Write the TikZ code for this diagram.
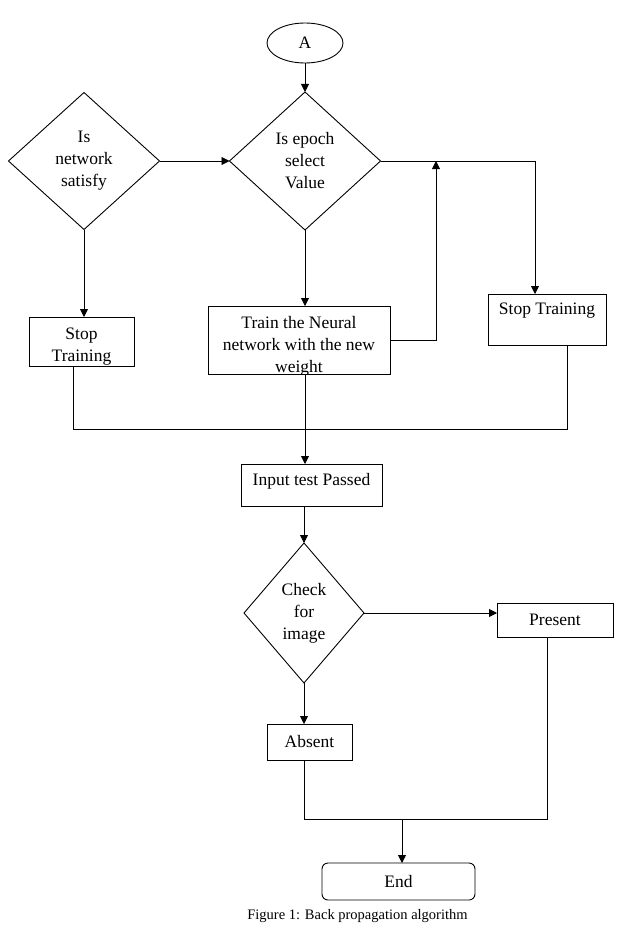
\documentclass[tikz,border=0pt]{standalone}
\usepackage{fontspec}
\setmainfont{Liberation Serif}
\usepackage{tikz}
\usetikzlibrary{shapes.geometric,arrows.meta}

\begin{document}
\begin{tikzpicture}[x=1pt, y=-1pt, line width=0.9pt,
    font=\fontsize{17.5}{22}\selectfont,
    arr/.style={-{Triangle[length=8pt,width=8pt]}},
    box/.style={draw, rectangle, inner sep=0pt, outer sep=0pt},
    decision/.style={draw, diamond, inner sep=0pt, outer sep=0pt, align=center},
    boxtext/.style={align=center, inner sep=0pt}]
    \useasboundingbox (0,0) rectangle (621,926);
    % start
    \node[draw, ellipse, inner sep=0pt] (A) at (305,43) [minimum width=76pt, minimum height=40pt] {A};
    % decisions
    \node[decision] (epoch) at (305,161) [minimum width=151pt, minimum height=138pt] {Is epoch\\select\\Value};
    \node[decision] (network) at (84,161) [minimum width=151pt, minimum height=137pt] {Is\\network\\satisfy};
    \node[decision] (check) at (304,613) [minimum width=120pt, minimum height=140pt] {Check\\for\\image};
    % boxes
    \node[box] (stopl) at (81.5,341.5) [minimum width=105pt, minimum height=49pt,
        path picture={\node[boxtext] (stopltext) at ([yshift=-5.5pt]path picture bounding box.center) {Stop\\Training};}] {};
    \node[box] (train) at (299,340) [minimum width=182pt, minimum height=68pt,
        path picture={\node[boxtext] (traintext) at ([yshift=-6.5pt]path picture bounding box.center) {Train the Neural\\network with the new\\weight};}] {};
    \node[box] (stopr) at (547,319.5) [minimum width=118pt, minimum height=51pt,
        path picture={\node[boxtext] (stoprtext) at ([yshift=-17pt]path picture bounding box.north) {Stop Training};}] {};
    \node[box] (input) at (311.5,485) [minimum width=141pt, minimum height=42pt,
        path picture={\node[boxtext] (inputtext) at ([yshift=4pt]path picture bounding box.center) {Input test Passed};}] {};
    \node[box] (present) at (555,620) [minimum width=116pt, minimum height=34pt] {Present};
    \node[box] (absent) at (309.5,742) [minimum width=85pt, minimum height=36pt] {Absent};
    \node[box, rounded corners=6pt] (end) at (398.5,881.5) [minimum width=153pt, minimum height=37pt] {End};
    \node[font=\fontsize{14.5}{16}\selectfont, inner sep=0pt] (caption) at (357.5,916) {Figure 1: Back propagation algorithm};
    % helper points
    \coordinate (loop) at (436,161);
    \coordinate (joinl) at (73,429);
    \coordinate (joinr) at (567,429);
    \coordinate (merge) at (402,819);
    % connectors
    \draw[arr] (A) -- (epoch);
    \draw[arr] (network.east) -- (epoch.west);
    \draw[arr] (network.south) -- (network.south |- stopl.north);
    \draw[arr] (epoch.south) -- (epoch.south |- train.north);
    \draw[arr] (epoch.east) -| ([xshift=-12pt]stopr.north);
    \draw[arr] (train.east) -| (loop);
    \draw (joinl |- stopl.south) -- (joinl) -- (joinr) -- (joinr |- stopr.south);
    \draw[arr] (epoch.south |- train.south) -- (epoch.south |- input.north);
    \draw[arr] (check.north |- input.south) -- (check.north);
    \draw[arr] (check.east) -- (check.east -| present.west);
    \draw[arr] (check.south) -- (check.south |- absent.north);
    \draw (check.south |- absent.south) |- ([xshift=-8pt]present.south |- merge) -- ([xshift=-8pt]present.south);
    \draw[arr] (merge) -- (merge |- end.north);
\end{tikzpicture}
\end{document}
